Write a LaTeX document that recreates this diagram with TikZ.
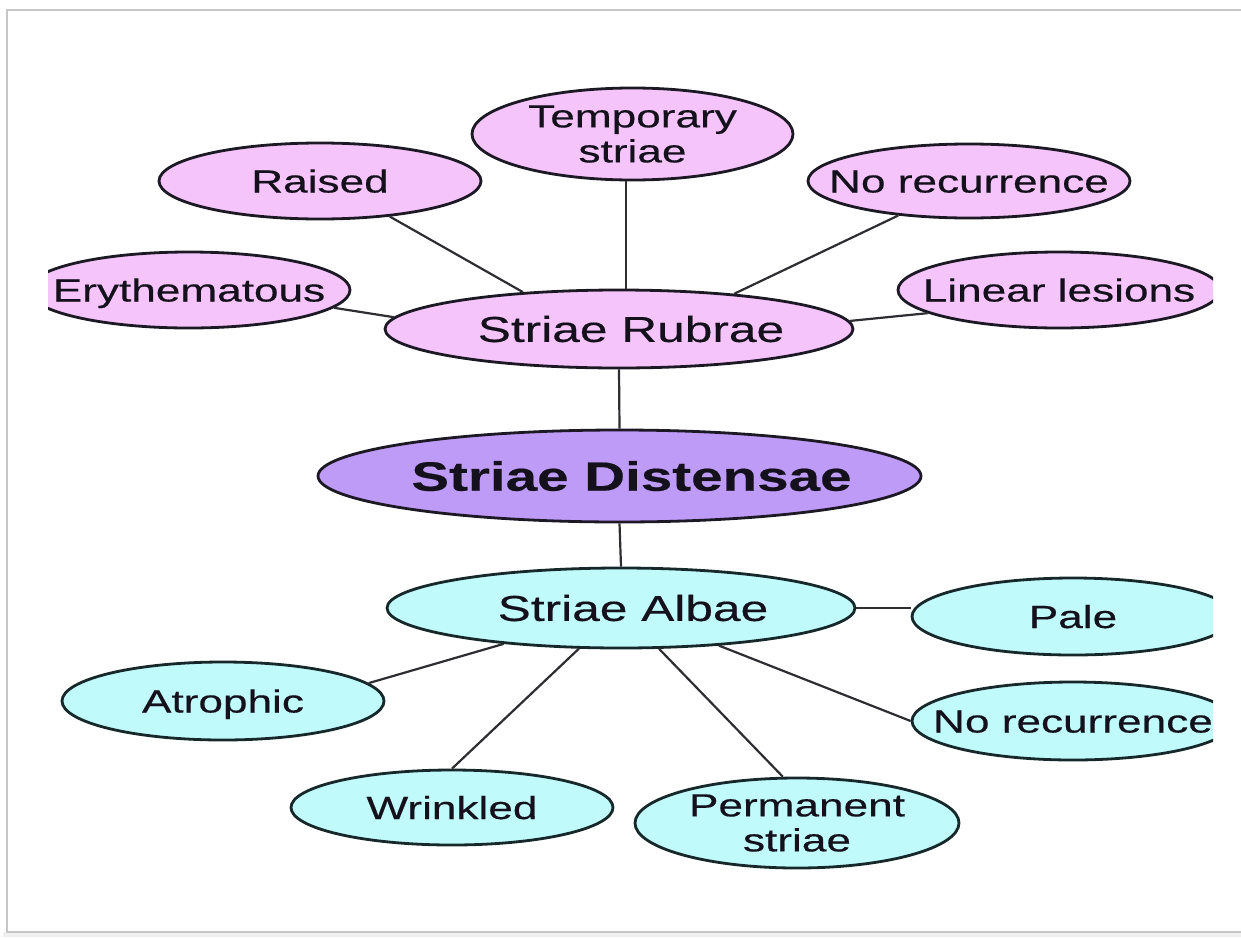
\documentclass[tikz,border=0pt]{standalone}
\usepackage{fontspec}
\setmainfont{Liberation Sans}
\newfontfamily\wideSans[FakeStretch=1.38,FakeBold=0.4]{Liberation Sans}
\usetikzlibrary{shapes.geometric}
\definecolor{pinkF}{RGB}{245,196,250}
\definecolor{purpF}{RGB}{190,155,246}
\definecolor{cyanF}{RGB}{192,250,250}
\definecolor{lineC}{RGB}{28,24,36}
\definecolor{lineT}{RGB}{22,40,42}
\definecolor{connC}{RGB}{45,45,50}
\definecolor{textC}{RGB}{20,16,28}
\begin{document}
\begin{tikzpicture}[x=0.5pt,y=-0.5pt,
  ell/.style={ellipse, draw=lineC, line width=1.4pt, inner sep=-300pt, text=textC},
  leaf/.style={ell, font=\wideSans\fontsize{16}{17.5}\selectfont},
  oneline/.style={text height=11.5pt, text depth=0pt},
  twoline/.style={align=center},
  mainnode/.style={ell, font=\wideSans\fontsize{18}{20}\selectfont, text height=12.9pt, text depth=0pt},
  hubnode/.style={ell, font=\wideSans\bfseries\fontsize{20.5}{23}\selectfont, text height=14.7pt, text depth=0pt},
  pinknode/.style={fill=pinkF},
  cyannode/.style={fill=cyanF, draw=lineT},
  conn/.style={draw=connC, line width=1.1pt}]
\useasboundingbox (0,0) rectangle (1241,937);
% frame
\fill[gray!12] (3,932) rectangle (1241,937);
\draw[gray!45, line width=0.9pt] (1245,10) -- (7,10) -- (7,932) -- (1245,932);
\begin{scope}
\clip (48,0) rectangle (1213,937);
% rubrae side
\node[leaf, twoline, pinknode, minimum width=160.5pt, minimum height=46pt] (temp) at (632.5,134) {Temporary\\striae};
\node[leaf, oneline, pinknode, minimum width=161pt, minimum height=38pt] (raised) at (320,181) {Raised};
\node[leaf, oneline, pinknode, minimum width=161pt, minimum height=37pt] (nrtop) at (969,181) {No recurrence};
\node[leaf, oneline, pinknode, minimum width=161pt, minimum height=38pt] (ery) at (189,290) {Erythematous};
\node[leaf, oneline, pinknode, minimum width=161pt, minimum height=38pt] (lin) at (1059,290) {Linear lesions};
\node[mainnode, pinknode, minimum width=234pt, minimum height=39pt] (rub) at (619,329) {\hspace*{12pt}Striae Rubrae};
% hub
\node[hubnode, fill=purpF, minimum width=301.5pt, minimum height=46pt] (dis) at (619.5,476) {\hspace*{12pt}Striae Distensae};
% albae side
\node[mainnode, cyannode, minimum width=234pt, minimum height=40pt] (alb) at (621,608) {\hspace*{12pt}Striae Albae};
\node[leaf, oneline, cyannode, minimum width=161pt, minimum height=38.5pt] (pale) at (1073,616.5) {Pale};
\node[leaf, oneline, cyannode, minimum width=161pt, minimum height=39pt] (atro) at (223,701) {Atrophic};
\node[leaf, oneline, cyannode, minimum width=161pt, minimum height=39pt] (nrbot) at (1073,721) {No recurrence};
\node[leaf, oneline, cyannode, minimum width=161pt, minimum height=37.5pt] (wrink) at (452,807.5) {Wrinkled};
\node[leaf, twoline, cyannode, minimum width=162pt, minimum height=45pt] (perm) at (797,823) {Permanent\\striae};
% connectors
\draw[conn] (temp.-98) -- (temp.-98 |- rub.north);
\draw[conn] (raised.-27) -- (rub.159.5);
\draw[conn] (nrtop.-154) -- (rub.17.5);
\draw[conn] (ery.-7.8) -- (rub.177.2);
\draw[conn] (lin.-170.3) -- (rub.2);
\draw[conn] (rub.south) -- (dis.north);
\draw[conn] (dis.south) -- (alb.north);
\draw[conn] (alb.east) -- (alb.east -| pale.west);
\draw[conn] (alb.-163.8) -- (atro.7.2);
\draw[conn] (alb.-136.3) -- (wrink.90);
\draw[conn] (alb.-47.1) -- (perm.107);
\draw[conn] (alb.-21.4) -- (nrbot.180);
\end{scope}
\end{tikzpicture}
\end{document}
